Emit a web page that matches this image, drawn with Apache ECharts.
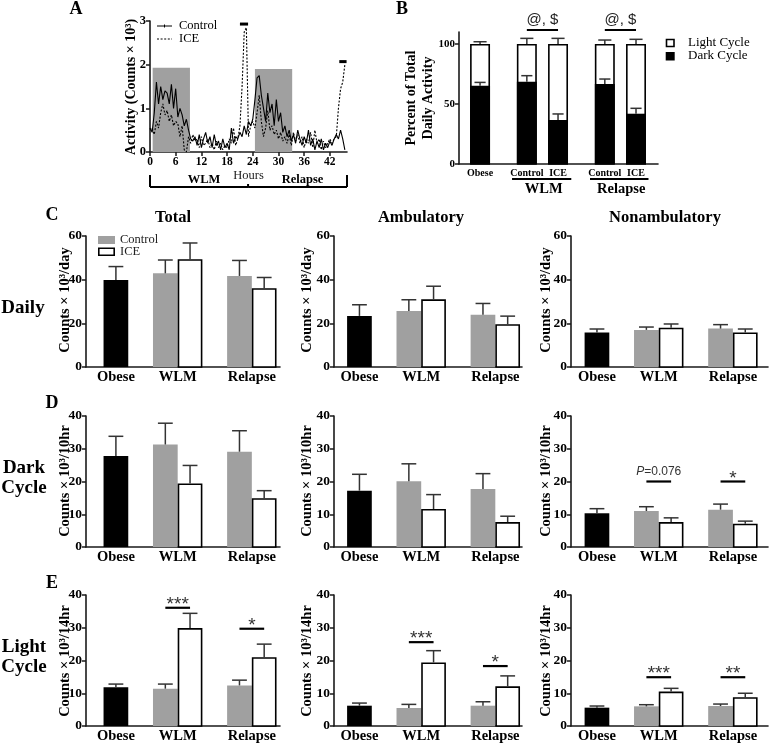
<!DOCTYPE html>
<html><head><meta charset="utf-8">
<script src="https://cdn.jsdelivr.net/npm/echarts@6/dist/echarts.min.js"></script>
<style>html,body{margin:0;padding:0;background:#fff}#c{width:771px;height:744px}</style>
</head><body><div id="c"></div>
<script>
// ================= DATA =================
// Panel A : hourly activity (counts x 10^3)
const aHours = [0,0.5,1,1.5,2,2.5,3,3.5,4,4.5,5,5.5,6,6.5,7,7.5,8,8.5,9,9.5,10,10.5,11,11.5,12,12.5,13,13.5,14,14.5,15,15.5,16,16.5,17,17.5,18,18.5,19,19.5,20,20.5,21,21.5,22,22.5,23,23.5,24,24.5,25,25.5,26,26.5,27,27.5,28,28.5,29,29.5,30,30.5,31,31.5,32,32.5,33,33.5,34,34.5,35,35.5,36,36.5,37,37.5,38,38.5,39,39.5,40,40.5,41,41.5,42,42.5,43,43.5,44,44.5,45,45.5];
const aControl = [0.55,0.45,0.9,1.6,1.1,1.5,1.2,1.4,1.35,1.1,
  1.55,1.0,1.45,0.8,1.0,0.85,0.6,0.75,0.5,0.3,
  0.25,0.35,0.15,0.4,0.1,0.3,0.45,0.2,0.35,0.1,
  0.4,0.15,0.25,0.05,0.3,0.1,0.2,0.05,0.55,0.2,
  0.35,0.3,0.45,0.35,0.6,0.4,0.7,0.6,0.75,1.2,
  1.7,1.75,1.3,1.0,0.7,1.35,0.9,1.1,0.6,1.2,
  0.7,0.9,0.45,0.6,0.35,0.5,0.25,0.4,0.2,0.5,
  0.3,0.15,0.35,0.2,0.5,0.15,0.3,0.05,0.25,0.1,
  0.3,0.05,0.2,0.1,0.25,0.15,0.3,0.4,0.3,0.5,
  0.3,0.05];
const aIce = [0.5,0.55,0.4,0.7,0.55,0.9,1.1,0.85,0.95,0.7,
  0.85,0.6,0.7,0.65,0.35,0.6,0.05,0.0,0.35,0.2,
  0.4,0.25,0.3,0.1,0.35,0.15,0.2,0.3,0.1,0.2,
  0.05,0.25,0.1,0.2,0.05,0.15,0.1,0.3,0.2,0.55,
  0.15,0.3,0.6,1.5,2.75,2.85,0.35,0.6,0.7,0.55,
  0.9,1.3,0.7,0.35,0.55,0.95,0.5,0.6,0.4,0.5,
  0.3,0.45,0.25,0.35,0.2,0.4,0.15,0.45,0.25,0.4,
  0.2,0.35,0.1,0.3,0.2,0.45,0.1,0.5,0.2,0.3,
  0.05,0.25,0.1,0.2,0.3,0.2,0.3,0.35,1.0,1.45,
  1.6,2.0];
const aDarkPeriods = [[0.62, 9.33, 1.93], [24.5, 33.2, 1.9]];   // [start h, end h, height]
const aTopMarks = [[21.0, 22.9, 2.93], [44.2, 45.9, 2.07]];      // [start h, end h, value]
const aTicks = [0, 6, 12, 18, 24, 30, 36, 42];
const aPhases = [['WLM', 0, 22.9], ['Relapse', 22.9, 46]];

// Panel B : percent of total daily activity
const bLabels = ['Obese', 'Control', 'ICE', 'Control', 'ICE'];
const bPos = [0, 3, 5, 8, 10];
const bDark = [65.3, 68.6, 36.7, 66.7, 41.9];
const bDarkErr = [68.0, 73.6, 41.7, 70.8, 46.4];
const bTotal = [100, 100, 100, 100, 100];
const bTotalErr = [101.9, 104.7, 104.7, 103.3, 103.9];
const bGroups = [['WLM', 2.05, 5.85], ['Relapse', 7.05, 10.8]];
const bSig = [[3, 5, 111.7], [8, 10, 111.7]];
const bSigText = ['@, $', '@, $'];

// Panels C-E : bars  (Obese, WLM-Control, WLM-ICE, Relapse-Control, Relapse-ICE)
const groupNames = ['Obese', 'WLM', 'Relapse'];
const groupCenters = [0, 2.5, 5.5];
const barPos = [0, 2, 3, 5, 6];
const barKind = ['Obese', 'Control', 'ICE', 'Control', 'ICE'];

const totalDaily = [39.8, 42.9, 49.4, 41.7, 36.1];
const totalDailyErr = [46.0, 49.0, 56.8, 48.8, 41.0];
const ambDaily = [23.4, 25.6, 31.0, 23.9, 19.6];
const ambDailyErr = [28.5, 30.8, 37.0, 29.1, 23.3];
const nonDaily = [15.8, 17.0, 18.0, 17.6, 15.8];
const nonDailyErr = [17.4, 18.3, 19.7, 19.4, 17.4];

const totalDark = [27.8, 31.3, 19.4, 29.1, 14.9];
const totalDarkErr = [33.8, 37.8, 24.9, 35.5, 17.2];
const ambDark = [17.2, 20.1, 11.6, 17.7, 7.6];
const ambDarkErr = [22.2, 25.4, 16.0, 22.4, 9.4];
const nonDark = [10.3, 11.0, 7.6, 11.4, 7.1];
const nonDarkErr = [11.7, 12.3, 8.9, 13.1, 7.9];

const totalLight = [11.8, 11.4, 29.9, 12.4, 21.0];
const totalLightErr = [12.8, 12.8, 34.4, 14.0, 25.0];
const ambLight = [6.2, 5.5, 19.4, 6.2, 12.1];
const ambLightErr = [7.0, 6.6, 23.0, 7.4, 15.3];
const nonLight = [5.6, 6.0, 10.5, 6.1, 8.8];
const nonLightErr = [6.1, 6.5, 11.5, 6.7, 10.0];

// significance bars [from x, to x, y] and texts
const sigDarkNon = [[2, 3, 20], [5, 6, 20]];
const sigDarkNonText = ['{i|P}=0.076', '*'];
const sigLightTotal = [[2, 3, 36.1], [5, 6, 29.7]];
const sigLightTotalText = ['***', '*'];
const sigLightAmb = [[2, 3, 25.6], [5, 6, 18.3]];
const sigLightAmbText = ['***', '*'];
const sigLightNon = [[2, 3, 14.9], [5, 6, 14.9]];
const sigLightNonText = ['***', '**'];

// ================= BUILD =================
const SERIF = '"Liberation Serif","Times New Roman",Times,serif';
const SANS = '"Liberation Sans",Arial,Helvetica,sans-serif';
const AX = '#1a1a1a';
const GREY = '#a0a0a0';

const grids = [], xAxes = [], yAxes = [], series = [], G = [];

function axisLine() { return {show: true, onZero: false, lineStyle: {color: AX, width: 1.6}}; }
function lbl(fs, extra) { return Object.assign({fontFamily: SERIF, fontWeight: 'bold', fontSize: fs, color: '#000'}, extra || {}); }

// ---- Grid A ----
grids.push({left: 150, top: 21, width: 197, height: 131});
xAxes.push({gridIndex: 0, type: 'value', min: 0, max: 46, axisLine: axisLine(),
  axisTick: {show: true, customValues: aTicks, length: 4, lineStyle: {color: AX, width: 1.5}},
  axisLabel: lbl(11.5, {customValues: aTicks, margin: 4}), splitLine: {show: false},
  name: 'Hours', nameLocation: 'middle', nameGap: 16,
  nameTextStyle: {fontFamily: SERIF, fontSize: 12.5, color: '#222'}});
yAxes.push({gridIndex: 0, type: 'value', min: 0, max: 3, interval: 1, axisLine: axisLine(),
  axisTick: {show: true, length: 4, lineStyle: {color: AX, width: 1.5}},
  axisLabel: lbl(12.5, {margin: 4}), splitLine: {show: false}});

series.push({type: 'custom', xAxisIndex: 0, yAxisIndex: 0, z: 1, data: aDarkPeriods,
  renderItem: (p, api) => {
    const a = api.coord([api.value(0), api.value(2)]), b = api.coord([api.value(1), 0]);
    return {type: 'rect', shape: {x: a[0], y: a[1], width: b[0] - a[0], height: b[1] - a[1]}, style: {fill: GREY}};
  }});
series.push({type: 'line', name: 'Control', xAxisIndex: 0, yAxisIndex: 0, z: 3, symbol: 'none',
  data: aHours.map((h, i) => [h, aControl[i]]), lineStyle: {color: '#000', width: 1.1}});
series.push({type: 'line', name: 'ICE', xAxisIndex: 0, yAxisIndex: 0, z: 3, symbol: 'none',
  data: aHours.map((h, i) => [h, aIce[i]]), lineStyle: {color: '#000', width: 1.1, type: [2, 1.6]}});
series.push({type: 'custom', xAxisIndex: 0, yAxisIndex: 0, z: 4, data: aTopMarks,
  renderItem: (p, api) => {
    const a = api.coord([api.value(0), api.value(2)]), b = api.coord([api.value(1), api.value(2)]);
    return {type: 'line', shape: {x1: a[0], y1: a[1], x2: b[0], y2: b[1]}, style: {stroke: '#000', lineWidth: 3}};
  }});
series.push({type: 'custom', xAxisIndex: 0, yAxisIndex: 0, z: 4,
  data: aPhases.map(ph => [ph[1], ph[2], 0]),
  renderItem: (p, api) => {
    const i = p.dataIndex, n = aPhases.length;
    const a = api.coord([api.value(0), 0]), b = api.coord([api.value(1), 0]);
    const y = a[1] + 35;
    const ch = [{type: 'line', shape: {x1: a[0], y1: y, x2: b[0], y2: y}, style: {stroke: '#000', lineWidth: 2}}];
    ch.push({type: 'line', shape: {x1: a[0], y1: y, x2: a[0], y2: y - (i === 0 ? 12 : 3)}, style: {stroke: '#000', lineWidth: 2}});
    if (i === n - 1) ch.push({type: 'line', shape: {x1: b[0], y1: y, x2: b[0], y2: y - 12}, style: {stroke: '#000', lineWidth: 2}});
    ch.push({type: 'text', x: (a[0] + b[0]) / 2 + 5, y: y - 7,
      style: {text: aPhases[i][0], fontFamily: SERIF, fontWeight: 'bold', fontSize: 12.5, fill: '#000', align: 'center', verticalAlign: 'middle'}});
    return {type: 'group', children: ch};
  }});

// ---- Grid B ----
grids.push({left: 459, top: 32, width: 199, height: 132});
xAxes.push({gridIndex: 1, type: 'value', min: -1.35, max: 11.41, axisLine: axisLine(),
  axisTick: {show: false}, splitLine: {show: false},
  axisLabel: lbl(10, {customValues: bPos, margin: 4, formatter: v => { const k = bPos.indexOf(v); return k < 0 ? '' : bLabels[k]; }})});
yAxes.push({gridIndex: 1, type: 'value', min: 0, max: 110, axisLine: axisLine(),
  axisTick: {show: true, customValues: [0, 50, 100], length: 4, lineStyle: {color: AX, width: 1.5}},
  axisLabel: lbl(11, {customValues: [0, 50, 100], margin: 4}), splitLine: {show: false}});

series.push({type: 'custom', xAxisIndex: 1, yAxisIndex: 1, z: 3,
  data: bPos.map((x, i) => [x, bDark[i], bDarkErr[i], bTotal[i], bTotalErr[i]]),
  renderItem: (p, api) => {
    const x = api.value(0), hw = 0.64, cw = 0.42;
    const tl = api.coord([x - hw, api.value(3)]), br = api.coord([x + hw, 0]);
    const dk = api.coord([x - hw, api.value(1)]);
    const c = (xx, yy) => api.coord([xx, yy]);
    const dE = c(x, api.value(2)), dT = c(x, api.value(1)), tE = c(x, api.value(4)), tT = c(x, api.value(3));
    const eb = {stroke: '#333', lineWidth: 1.5};
    return {type: 'group', children: [
      {type: 'line', shape: {x1: tT[0], y1: tT[1], x2: tE[0], y2: tE[1]}, style: eb},
      {type: 'line', shape: {x1: c(x - cw, 0)[0], y1: tE[1], x2: c(x + cw, 0)[0], y2: tE[1]}, style: eb},
      {type: 'rect', shape: {x: tl[0] + 0.8, y: tl[1] + 0.8, width: br[0] - tl[0] - 1.6, height: br[1] - tl[1] - 0.8}, style: {fill: '#fff', stroke: '#000', lineWidth: 1.6}},
      {type: 'rect', shape: {x: dk[0], y: dk[1], width: br[0] - dk[0], height: br[1] - dk[1]}, style: {fill: '#000'}},
      {type: 'line', shape: {x1: dT[0], y1: dT[1], x2: dE[0], y2: dE[1]}, style: eb},
      {type: 'line', shape: {x1: c(x - cw * 0.85, 0)[0], y1: dE[1], x2: c(x + cw * 0.85, 0)[0], y2: dE[1]}, style: eb}
    ]};
  }});
series.push({type: 'custom', xAxisIndex: 1, yAxisIndex: 1, z: 4, data: bSig,
  renderItem: (p, api) => {
    const a = api.coord([api.value(0), api.value(2)]), b = api.coord([api.value(1), api.value(2)]);
    return {type: 'group', children: [
      {type: 'line', shape: {x1: a[0], y1: a[1], x2: b[0], y2: b[1]}, style: {stroke: '#000', lineWidth: 2}},
      {type: 'text', x: (a[0] + b[0]) / 2, y: a[1] - 10, style: {text: bSigText[p.dataIndex], fontFamily: SANS, fontSize: 15, fill: '#222', align: 'center', verticalAlign: 'middle'}}
    ]};
  }});
series.push({type: 'custom', xAxisIndex: 1, yAxisIndex: 1, z: 4, data: bGroups.map(g => [g[1], g[2], 0]),
  renderItem: (p, api) => {
    const a = api.coord([api.value(0), 0]), b = api.coord([api.value(1), 0]);
    const y = a[1] + 15;
    return {type: 'group', children: [
      {type: 'line', shape: {x1: a[0], y1: y, x2: b[0], y2: y}, style: {stroke: '#000', lineWidth: 2}},
      {type: 'text', x: (a[0] + b[0]) / 2 + 2, y: y + 10, style: {text: bGroups[p.dataIndex][0], fontFamily: SERIF, fontWeight: 'bold', fontSize: 14.5, fill: '#000', align: 'center', verticalAlign: 'middle'}}
    ]};
  }});

// ---- Panels C-E ----
const cols = [
  {left: 86, width: 194, min: -1.21, max: 6.64},
  {left: 334, width: 188, min: -1.03, max: 6.58},
  {left: 571, width: 197, min: -1.05, max: 6.92}
];
const rows = [
  {top: 236, height: 131, max: 60, interval: 20},
  {top: 416, height: 131, max: 40, interval: 10},
  {top: 595, height: 132, max: 40, interval: 10}
];
const panelVals = [
  [[totalDaily, totalDailyErr], [ambDaily, ambDailyErr], [nonDaily, nonDailyErr]],
  [[totalDark, totalDarkErr], [ambDark, ambDarkErr], [nonDark, nonDarkErr]],
  [[totalLight, totalLightErr], [ambLight, ambLightErr], [nonLight, nonLightErr]]
];
const panelSig = {'1-2': [sigDarkNon, sigDarkNonText], '2-0': [sigLightTotal, sigLightTotalText],
  '2-1': [sigLightAmb, sigLightAmbText], '2-2': [sigLightNon, sigLightNonText]};

function barRender(p, api) {
  const x = api.value(0), y = api.value(1), e = api.value(2);
  const kind = barKind[p.dataIndex];
  const tl = api.coord([x - 0.5, y]), br = api.coord([x + 0.5, 0]);
  const top = api.coord([x, e]), bt = api.coord([x, y]);
  const c1 = api.coord([x - 0.3, e]), c2 = api.coord([x + 0.3, e]);
  const eb = {stroke: '#333', lineWidth: 1.5};
  const ch = [];
  if (kind === 'ICE') {
    ch.push({type: 'rect', shape: {x: tl[0] + 0.8, y: tl[1] + 0.8, width: br[0] - tl[0] - 1.6, height: br[1] - tl[1] - 0.8}, style: {fill: '#fff', stroke: '#000', lineWidth: 1.6}});
  } else {
    ch.push({type: 'rect', shape: {x: tl[0], y: tl[1], width: br[0] - tl[0], height: br[1] - tl[1]}, style: {fill: kind === 'Obese' ? '#000' : GREY}});
  }
  ch.push({type: 'line', shape: {x1: bt[0], y1: bt[1], x2: top[0], y2: top[1]}, style: eb});
  ch.push({type: 'line', shape: {x1: c1[0], y1: c1[1], x2: c2[0], y2: c2[1]}, style: eb});
  return {type: 'group', children: ch};
}

rows.forEach((r, ri) => {
  cols.forEach((c, ci) => {
    const g = grids.length;
    grids.push({left: c.left, top: r.top, width: c.width, height: r.height});
    xAxes.push({gridIndex: g, type: 'value', min: c.min, max: c.max, axisLine: axisLine(),
      axisTick: {show: false}, splitLine: {show: false},
      axisLabel: lbl(14.5, {customValues: groupCenters, margin: 3, formatter: v => { const k = groupCenters.indexOf(v); return k < 0 ? '' : groupNames[k]; }})});
    yAxes.push({gridIndex: g, type: 'value', min: 0, max: r.max, interval: r.interval, axisLine: axisLine(),
      axisTick: {show: true, length: 4, lineStyle: {color: AX, width: 1.5}},
      axisLabel: lbl(13.5, {margin: 4}), splitLine: {show: false}});
    const [vals, errs] = panelVals[ri][ci];
    series.push({type: 'custom', xAxisIndex: g, yAxisIndex: g, z: 3,
      data: barPos.map((x, i) => [x, vals[i], errs[i]]), renderItem: barRender});
    const sg = panelSig[ri + '-' + ci];
    if (sg) {
      const [sd, st] = sg;
      series.push({type: 'custom', xAxisIndex: g, yAxisIndex: g, z: 4, data: sd,
        renderItem: (p, api) => {
          const a = api.coord([api.value(0), api.value(2)]), b = api.coord([api.value(1), api.value(2)]);
          const t = st[p.dataIndex];
          const isP = t.indexOf('P') >= 0;
          return {type: 'group', children: [
            {type: 'line', shape: {x1: a[0], y1: a[1], x2: b[0], y2: b[1]}, style: {stroke: '#000', lineWidth: 2.2}},
            {type: 'text', x: (a[0] + b[0]) / 2, y: a[1] - (isP ? 10 : 3),
              style: {text: t, fontFamily: SANS, fontSize: isP ? 12 : 19, fill: '#333', align: 'center', verticalAlign: 'middle',
                rich: {i: {fontFamily: SANS, fontSize: 12, fontStyle: 'italic', fill: '#333'}}}}
          ]};
        }});
    }
  });
});

// ---- Texts / legends ----
function txt(x, y, text, o) {
  o = o || {};
  G.push({type: 'text', x, y, rotation: o.rot || 0, silent: true, z: 10,
    style: {text, fill: o.fill || '#000', fontFamily: o.ff || SERIF, fontSize: o.fs || 14,
      fontWeight: o.fw || 'bold', align: o.align || 'center', verticalAlign: 'middle', lineHeight: o.lh || undefined}});
}
const R = Math.PI / 2;
txt(76, 9, 'A', {fs: 18});
txt(402, 9, 'B', {fs: 18});
txt(52, 215, 'C', {fs: 18});
txt(52, 403, 'D', {fs: 18});
txt(52, 583, 'E', {fs: 18});

txt(131, 87, 'Activity (Counts × 10³)', {fs: 14, rot: R});
txt(420, 98, 'Percent of Total\nDaily Activity', {fs: 14, rot: R, lh: 17});

txt(173, 218, 'Total', {fs: 16.5});
txt(421, 218, 'Ambulatory', {fs: 16.5});
txt(665, 218, 'Nonambulatory', {fs: 16.5});

txt(23, 308, 'Daily', {fs: 19});
txt(24, 468, 'Dark', {fs: 19});
txt(24, 488, 'Cycle', {fs: 19});
txt(24, 647, 'Light', {fs: 19});
txt(24, 667, 'Cycle', {fs: 19});

const yNames = ['Counts × 10³/day', 'Counts × 10³/10hr', 'Counts × 10³/14hr'];
const yNameX = [65, 307, 546];
const yNameY = [300, 481, 661];
yNames.forEach((n, ri) => yNameX.forEach(x => txt(x, yNameY[ri], n, {fs: 14.5, rot: R})));

// legend A
G.push({type: 'line', silent: true, shape: {x1: 157, y1: 26, x2: 172, y2: 26}, style: {stroke: '#000', lineWidth: 1}});
G.push({type: 'line', silent: true, shape: {x1: 164.5, y1: 24.5, x2: 164.5, y2: 27.5}, style: {stroke: '#000', lineWidth: 1}});
G.push({type: 'line', silent: true, shape: {x1: 157, y1: 39, x2: 172, y2: 39}, style: {stroke: '#000', lineWidth: 1, lineDash: [2, 1.6]}});
txt(179, 26, 'Control', {fs: 12.5, fw: 'normal', align: 'left'});
txt(179, 39, 'ICE', {fs: 12.5, fw: 'normal', align: 'left'});

// legend B
G.push({type: 'rect', silent: true, shape: {x: 666.5, y: 39.5, width: 7.5, height: 7}, style: {fill: '#fff', stroke: '#000', lineWidth: 1.6}});
G.push({type: 'rect', silent: true, shape: {x: 665.7, y: 52, width: 9, height: 8.5}, style: {fill: '#000'}});
txt(688, 43, 'Light Cycle', {fs: 13, fw: 'normal', align: 'left'});
txt(688, 56, 'Dark Cycle', {fs: 13, fw: 'normal', align: 'left'});

// legend C
G.push({type: 'rect', silent: true, shape: {x: 98, y: 236, width: 17, height: 8}, style: {fill: GREY}});
G.push({type: 'rect', silent: true, shape: {x: 98.8, y: 248.3, width: 15.4, height: 7}, style: {fill: '#fff', stroke: '#000', lineWidth: 1.6}});
txt(120, 239.5, 'Control', {fs: 12.5, fw: 'normal', align: 'left', fill: '#222'});
txt(120, 252, 'ICE', {fs: 12.5, fw: 'normal', align: 'left', fill: '#222'});

const chart = echarts.init(document.getElementById('c'), null, {renderer: 'canvas'});
chart.setOption({
  backgroundColor: '#fff', animation: false,
  grid: grids, xAxis: xAxes, yAxis: yAxes, series, graphic: G
});
</script></body></html>
